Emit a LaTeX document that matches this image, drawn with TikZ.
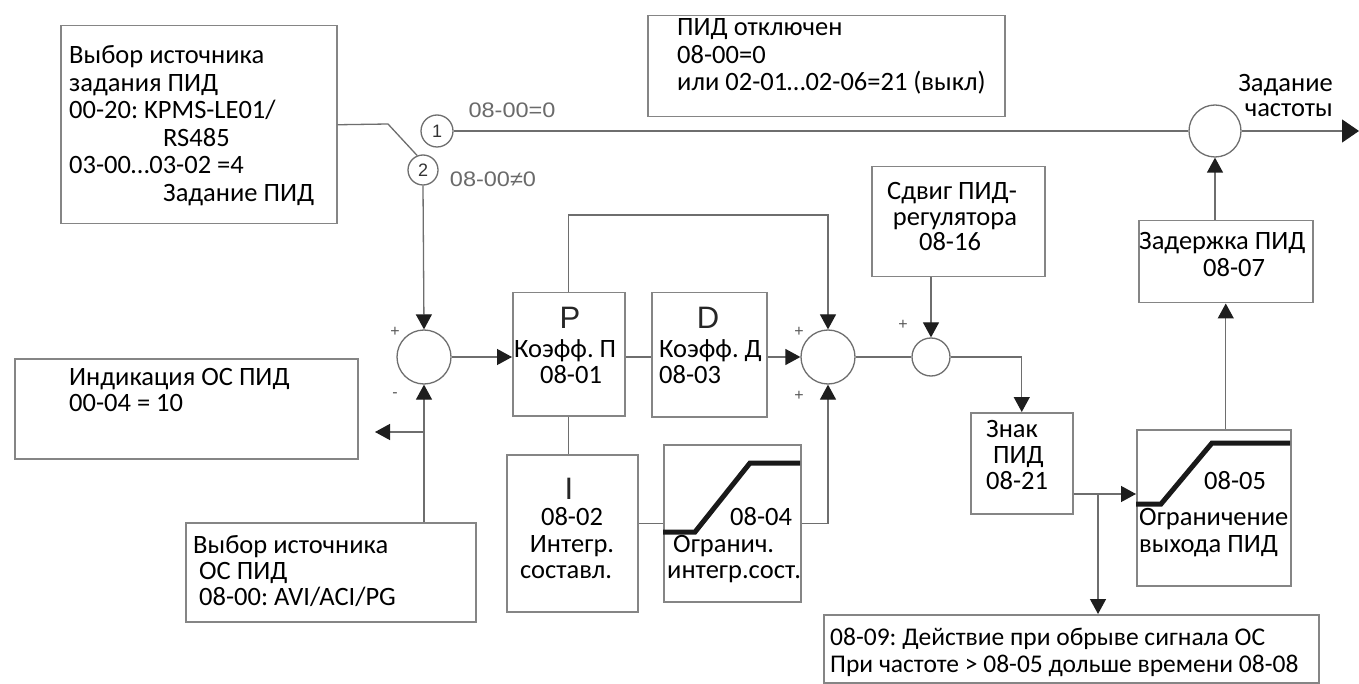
\documentclass[tikz,border=0pt]{standalone}
\usepackage{fontspec}
\usepackage{graphicx}
\setmainfont{Carlito}
\newfontfamily\arialf{Liberation Sans}
\usetikzlibrary{arrows.meta,calc}
\frenchspacing
\definecolor{boxc}{HTML}{858585}
\definecolor{linec}{HTML}{6E6E6E}
\definecolor{tipc}{HTML}{1E1E1E}
\definecolor{lblc}{HTML}{6A6A6A}
\tikzset{
  bx/.style={draw=boxc, line width=1.5pt, inner sep=0pt, anchor=north west, rectangle},
  conn/.style={draw=linec, line width=1.3pt},
  arr/.style={-{Triangle[length=15pt,width=16pt,fill=tipc,color=tipc]}},
  bigarr/.style={-{Triangle[length=17pt,width=23pt,fill=tipc,color=tipc]}},
  sm/.style={circle, draw=linec, line width=1.3pt, inner sep=0pt},
  tx/.style={inner sep=0pt, anchor=base west, font=\fontsize{26.5}{28}\selectfont},
  txs/.style={tx, font=\fontsize{25.5}{27}\selectfont},
  txc/.style={tx, anchor=base},
  txe/.style={tx, anchor=base east},
  ramp/.style={line width=5pt, draw=black!90},
  sgn/.style={inner sep=0pt, font=\arialf\fontsize{16}{16}\selectfont, text=black!65},
  lbl/.style={inner sep=0pt, font=\arialf\fontsize{21}{23}\selectfont, text=lblc},
  big/.style={inner sep=0pt, anchor=base, font=\arialf\fontsize{31}{33}\selectfont, text=black!85},
  num/.style={font=\arialf\fontsize{18}{18}\selectfont, text=black!80},
}
\begin{document}
\begin{tikzpicture}[x=1pt,y=-1pt]
\useasboundingbox[fill=white] (0,0) rectangle (1359,684);

% ---- boxes
\node[bx, minimum width=276pt, minimum height=198pt] (b1) at (60,25) {};
\node[bx, minimum width=357pt, minimum height=101pt] (b2) at (647,15) {};
\node[bx, minimum width=173pt, minimum height=110pt] (b3) at (871,166) {};
\node[bx, minimum width=174pt, minimum height=82pt] (b4) at (1138,220) {};
\node[bx, minimum width=343pt, minimum height=100pt] (b6) at (14,358) {};
\node[bx, minimum width=290pt, minimum height=99pt] (b7) at (185,522) {};
\node[bx, minimum width=112pt, minimum height=123pt] (P) at (512,292) {};
\node[bx, minimum width=115pt, minimum height=124pt] (D) at (651,292) {};
\node[bx, minimum width=131pt, minimum height=157pt] (I) at (506,454) {};
\node[bx, minimum width=137pt, minimum height=157pt] (L4) at (663,444) {};
\node[bx, minimum width=102pt, minimum height=101pt] (S) at (970,412) {};
\node[bx, minimum width=154pt, minimum height=156pt] (L5) at (1136,429) {};
\node[bx, minimum width=495pt, minimum height=68pt] (b8) at (823,614) {};

% ---- circles
\node[sm, num, minimum size=32pt] (c1) at (437,131) {1};
\node[sm, num, minimum size=30pt] (c2) at (423,170) {2};
\node[sm, minimum size=54pt] (s1) at (424,357) {};
\node[sm, minimum size=54pt] (s2) at (828,357) {};
\node[sm, minimum size=38pt] (s3) at (931,357) {};
\node[sm, minimum size=52pt] (sF) at (1215,131) {};

% ---- coordinates
\coordinate (sw) at (388,124);
\coordinate (fb) at (424,432);
\coordinate (ind) at (375,432);
\coordinate (jn) at (1098,494);
\coordinate (out) at (1359,131);

% ---- ramps
\draw[ramp] (663,532) -- (695,532) -- (750,463) -- (800,463);
\draw[ramp] (1136,504) -- (1161,504) -- (1212,443) -- (1290,443);

% ---- connectors
\draw[conn] (b1.east) -- (sw) -- (c2.112);
\draw[conn] (c1.east) -- (sF.west);
\draw[conn,bigarr] (sF.east) -- (out);
\draw[conn,arr] (c2.south) -- (s1.north);
\draw[conn,arr] (s1.south |- b7.north) -- (s1.south);
\draw[conn,arr] (fb) -- (ind);
\draw[conn,arr] (s1.east) -- (s1.east -| P.west);
\draw[conn] (s1.east -| P.east) -- (s1.east -| D.west);
\draw[conn,arr] (s2.west -| D.east) -- (s2.west);
\draw[conn,arr] (P.north) -- ++(0,-77) -| (s2.north);
\draw[conn] (P.south) -- (P.south |- I.north);
\draw[conn] (I.east |- L4.west) -- (L4.west);
\draw[conn,arr] (L4.east) -| (s2.south);
\draw[conn] (s2.east) -- (s3.west);
\draw[conn,arr] (s3.north |- b3.south) -- (s3.north);
\draw[conn,arr] (s3.east) -| (S.north);
\draw[conn] (S.east |- jn) -- (jn);
\draw[conn,arr] (jn) -- (jn -| L5.west);
\draw[conn,arr] (jn) -- (jn |- b8.north);
\draw[conn,arr] (b4.south |- L5.north) -- (b4.south);
\draw[conn,arr] (sF.south |- b4.north) -- (sF.south);

% ---- signs
\node[sgn] (p1) at (395,332) {+};
\node[sgn] (m1) at (395,395) {-};
\node[sgn] (p2) at (799,332) {+};
\node[sgn] (p3) at (799,396) {+};
\node[sgn] (p4) at (903,325) {+};

% ---- grey labels
\node[lbl] (l1) at (512,110) {\scalebox{1.12}[1]{08-00=0}};
\node[lbl] (l2) at (493,179) {\scalebox{1.12}[1]{08-00≠0}};

% ---- texts
\node[tx] (t11) at (69,64) {Выбор источника};
\node[tx] (t12) at (69,91.5) {задания ПИД};
\node[tx] (t13) at (69,119) {00-20: KPMS-LE01/};
\node[tx] (t14) at (163,146.5) {RS485};
\node[tx] (t15) at (69,174) {03-00…03-02 =4};
\node[tx] (t16) at (163,201.5) {Задание ПИД};

\node[tx] (t21) at (677,36) {ПИД отключен};
\node[tx] (t22) at (677,63.5) {08-00=0};
\node[tx] (t23) at (677,91) {или 02-01…02-06=21 (выкл)};

\node[txe] (t31) at (1333,92) {Задание};
\node[txe] (t32) at (1333,117) {частоты};

\node[txc] (t41) at (952,200) {Сдвиг ПИД-};
\node[txc] (t42) at (955,226) {регулятора};
\node[txc] (t43) at (950,251) {08-16};

\node[tx] (t51) at (1139,250) {Задержка ПИД};
\node[tx] (t52) at (1203,277) {08-07};

\node[tx] (t61) at (69,385) {Индикация ОС ПИД};
\node[tx] (t62) at (69,411) {00-04 = 10};

\node[tx] (t71) at (193,553) {Выбор источника};
\node[tx] (t72) at (199,579) {ОС ПИД};
\node[tx] (t73) at (199,605) {08-00: AVI/ACI/PG};

\node[big] (tP) at (570,329) {P};
\node[tx] (tP1) at (514,357) {Коэфф. П};
\node[txc] (tP2) at (571,383) {08-01};

\node[big] (tD) at (708,329) {D};
\node[tx] (tD1) at (659,357) {Коэфф. Д};
\node[tx] (tD2) at (659,383) {08-03};

\node[big] (tI) at (569,499) {I};
\node[txc] (tI1) at (572,525) {08-02};
\node[txc] (tI2) at (572,552) {Интегр.};
\node[txc] (tI3) at (566,578) {составл.};

\node[tx] (tL1) at (730,525) {08-04};
\node[tx] (tL2) at (673,552) {Огранич.};
\node[tx] (tL3) at (667,578) {интегр.сост.};

\node[tx] (tS1) at (986,437) {Знак};
\node[tx] (tS2) at (993,463) {ПИД};
\node[tx] (tS3) at (986,489) {08-21};

\node[tx] (tM1) at (1204,489) {08-05};
\node[tx] (tM2) at (1139,525) {Ограничение};
\node[tx] (tM3) at (1139,552) {выхода ПИД};

\node[txs] (t81) at (830,645) {08-09: Действие при обрыве сигнала ОС};
\node[txs] (t82) at (830,672) {При частоте > 08-05 дольше времени 08-08};
\end{tikzpicture}
\end{document}
